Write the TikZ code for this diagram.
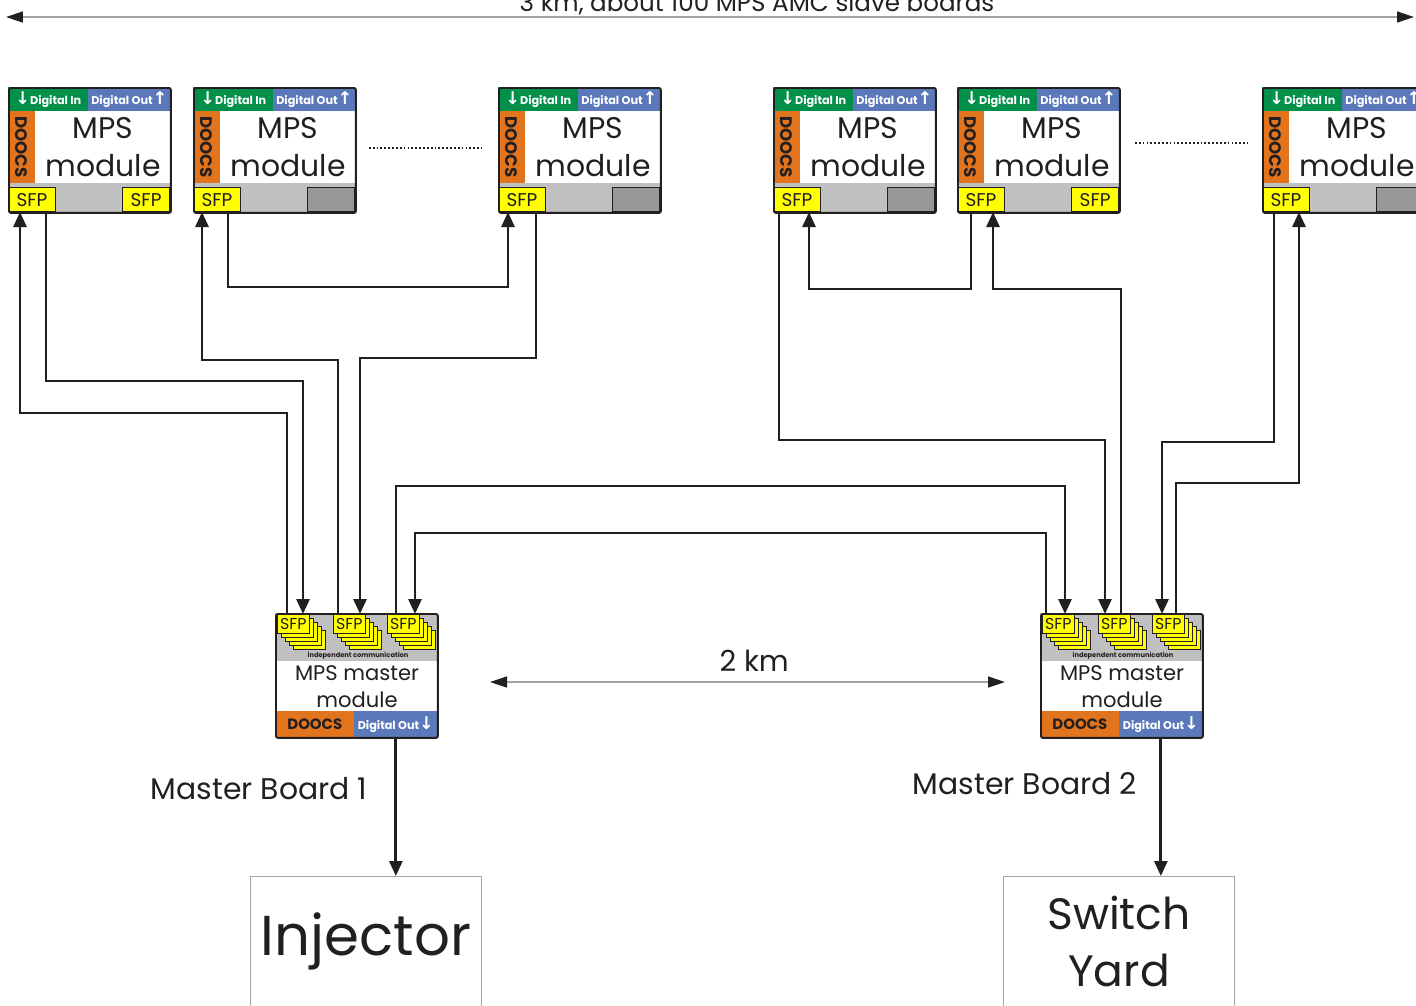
\documentclass[tikz,border=0pt]{standalone}
\usepackage{fontspec}
\setmainfont{Poppins}
\newfontfamily\arrowfont{DejaVu Sans}
\usetikzlibrary{positioning,arrows.meta}
\definecolor{dingreen}{HTML}{00904A}
\definecolor{doutblue}{HTML}{5B79BA}
\definecolor{doocsorange}{HTML}{E3741E}
\definecolor{sfpyellow}{HTML}{FFFF00}
\definecolor{boardgrey}{HTML}{C0C0C0}
\definecolor{blankgrey}{HTML}{989898}
\definecolor{inkdark}{HTML}{231F20}

\newcommand{\dn}{{\arrowfont\bfseries\fontsize{10}{10}\selectfont↓}}
\newcommand{\up}{{\arrowfont\bfseries\fontsize{10}{10}\selectfont↑}}

\tikzset{
  modframe/.style={draw=inkdark, line width=1.1pt, rounded corners=1.2pt, inner sep=0pt},
  sfpbox/.style={draw=inkdark, line width=0.5pt, fill=sfpyellow, inner sep=0pt, minimum width=0.94cm, minimum height=0.48cm, font=\fontsize{10.5}{11}\selectfont, text=inkdark},
  blankbox/.style={draw=inkdark, line width=0.5pt, fill=blankgrey, inner sep=0pt, minimum width=0.94cm, minimum height=0.48cm},
  msfp/.style={draw=inkdark, line width=0.4pt, fill=sfpyellow, inner sep=0pt, minimum width=0.64cm, minimum height=0.38cm, font=\fontsize{9}{10}\selectfont, text=inkdark},
  stackcard/.style={draw=inkdark, line width=0.4pt, fill=sfpyellow},
  inbar/.style={fill=dingreen, text=white, inner sep=0pt, minimum width=1.6cm, minimum height=0.48cm, font=\bfseries\fontsize{6.4}{7}\selectfont},
  outbar/.style={fill=doutblue, text=white, inner sep=0pt, minimum height=0.48cm, font=\bfseries\fontsize{6.4}{7}\selectfont},
  doocsbar/.style={fill=doocsorange, text=inkdark, inner sep=0pt, minimum height=0.52cm, font=\bfseries\fontsize{8.5}{9}\selectfont},
  bigtext/.style={text=inkdark, inner sep=0pt, font=\fontsize{17}{17}\selectfont},
  mtext/.style={text=inkdark, inner sep=0pt, font=\fontsize{12}{12}\selectfont},
  boardlabel/.style={text=inkdark, inner sep=0pt, font=\fontsize{17}{17}\selectfont},
  endbox/.style={draw=gray!70, line width=0.6pt, inner sep=0pt, align=center, text=inkdark, minimum width=4.62cm, minimum height=2.6cm},
  wire/.style={draw=inkdark, line width=1.6pt, -{Triangle[length=0.3cm,width=0.26cm]}},
  span/.style={draw=boardgrey!85!black, line width=0.8pt, {Triangle[length=0.34cm,width=0.22cm,color=inkdark]}-{Triangle[length=0.34cm,width=0.22cm,color=inkdark]}},
  gapdots/.style={draw=inkdark, line width=1pt, dash pattern=on 1pt off 1.2pt},
}

% one MPS AMC slave board: name, left edge, style and text of the right port
\newcommand{\slaveboard}[4]{%
  \begin{scope}[shift={(#2,87)}]
    \node[inbar, anchor=north west] (#1in) at (0,0) {\dn Digital In};
    \node[outbar, anchor=north west, minimum width=1.64cm] (#1do) at (80,0) {Digital Out\up};
    \fill[doocsorange] (0,24) rectangle (27,96);
    \fill[boardgrey] (0,96) rectangle (162,125);
    \node[rotate=-90, text=inkdark, inner sep=0pt, font=\bfseries\fontsize{9.5}{10}\selectfont] at (13.5,60) {DOOCS};
    \node[bigtext] at (95,41) {MPS};
    \node[bigtext] at (95,79) {module};
    \node[sfpbox, anchor=south west] (#1l) at (0,125) {SFP};
    \node[#3, anchor=south east] (#1r) at (162,125) {#4};
    \node[modframe, anchor=north west, minimum width=3.24cm, minimum height=2.5cm] (#1) at (0,0) {};
  \end{scope}}

% one MPS master board: name, left edge
\newcommand{\masterboard}[2]{%
  \begin{scope}[shift={(#2,613)}]
    \fill[boardgrey] (0,0) rectangle (162,48);
    \foreach \xo/\nm in {2/a,58/b,112/c}{
      \foreach \k in {4,3,2,1}
        \filldraw[stackcard] (\xo+4*\k,1+4*\k) rectangle ++(32,19);
      \node[msfp, anchor=north west] (#1\nm) at (\xo,1) {SFP};
    }
    \node[text=inkdark, inner sep=0pt, font=\bfseries\fontsize{3.8}{4}\selectfont] at (83,43) {independent communication};
    \node[mtext] at (82,60) {MPS master};
    \node[mtext] at (82,87) {module};
    \node[doocsbar, anchor=north west, minimum width=1.58cm] (#1doocs) at (0,98) {DOOCS};
    \node[outbar, anchor=north west, minimum width=1.66cm, minimum height=0.52cm] (#1out) at (79,98) {Digital Out\dn};
    \node[modframe, anchor=north west, minimum width=3.24cm, minimum height=2.48cm] (#1) at (0,0) {};
  \end{scope}}

\begin{document}
\begin{tikzpicture}[x=0.02cm, y=-0.02cm]
  \useasboundingbox (0,0) rectangle (1416,1005);

  % slave boards along the linac
  \slaveboard{s1}{8}{sfpbox}{SFP}
  \slaveboard{s2}{193}{blankbox}{}
  \slaveboard{s3}{498}{blankbox}{}
  \slaveboard{s4}{773}{blankbox}{}
  \slaveboard{s5}{957}{sfpbox}{SFP}
  \slaveboard{s6}{1262}{blankbox}{}
  \draw[gapdots] ([xshift=0.24cm, yshift=0.05cm]s2.east) -- ([xshift=-0.32cm, yshift=0.05cm]s3.west);
  \draw[gapdots] ([xshift=0.28cm, yshift=0.15cm]s5.east) -- ([xshift=-0.28cm, yshift=0.15cm]s6.west);

  % master boards
  \masterboard{m1}{275}
  \masterboard{m2}{1040}
  \node[boardlabel] (mb1) at (259,789) {Master Board 1};
  \node[boardlabel] (mb2) at (1025,784) {Master Board 2};

  % fibre links, master board 1
  \draw[wire] ([xshift=0.2cm]m1a.north west) -- ++(0,-201) -| ([xshift=0.24cm]s1l.south west);
  \draw[wire] ([xshift=0.76cm]s1l.south west) -- ++(0,169) -| ([xshift=0.52cm]m1a.north west);
  \draw[wire] ([xshift=0.1cm]m1b.north west) -- ++(0,-254) -| ([xshift=0.18cm]s2l.south west);
  \draw[wire] ([xshift=0.76cm]s3l.south west) -- ++(0,146) -| ([xshift=0.54cm]m1b.north west);
  \draw[wire] ([xshift=0.7cm]s2l.south west) -- ++(0,75) -| ([xshift=0.2cm]s3l.south west);
  \draw[wire] ([xshift=0.18cm]m1c.north west) -- ++(0,-128) -| ([xshift=0.46cm]m2a.north west);
  \draw[wire] ([xshift=0.08cm]m2a.north west) -- ++(0,-81) -| ([xshift=0.56cm]m1c.north west);

  % fibre links, master board 2
  \draw[wire] ([xshift=0.12cm]s4l.south west) -- ++(0,228) -| ([xshift=0.14cm]m2b.north west);
  \draw[wire] ([xshift=0.28cm]s5l.south west) -- ++(0,77) -| ([xshift=0.72cm]s4l.south west);
  \draw[wire] ([xshift=0.46cm]m2b.north west) -- ++(0,-325) -| ([xshift=0.72cm]s5l.south west);
  \draw[wire] ([xshift=0.24cm]s6l.south west) -- ++(0,230) -| ([xshift=0.2cm]m2c.north west);
  \draw[wire] ([xshift=0.48cm]m2c.north west) -- ++(0,-131) -| ([xshift=0.74cm]s6l.south west);

  % beam permit outputs
  \node[endbox, anchor=north west, font=\fontsize{32}{32}\selectfont] (inj) at (250,876) {Injector};
  \node[endbox, anchor=north west, font=\fontsize{25}{32}\selectfont] (yard) at (1003,876) {Switch\\Yard};
  \draw[wire] (m1out.south) -- (m1out.south |- inj.north);
  \draw[wire] (m2out.south) -- (m2out.south |- yard.north);

  % distances
  \coordinate (kmL) at (490,682);
  \coordinate (kmR) at (1005,682);
  \draw[span] (kmL) -- (kmR) node[pos=0.513, above=2pt, text=inkdark, font=\fontsize{16.5}{17}\selectfont] (dist) {2 km};
  \coordinate (allL) at (6,17);
  \coordinate (allR) at (1414,17);
  \draw[span] (allL) -- (allR);
  \node[anchor=base, text=inkdark, inner sep=0pt, font=\fontsize{14}{14}\selectfont] (total) at (757,11) {3 km, about 100 MPS AMC slave boards};
\end{tikzpicture}
\end{document}
